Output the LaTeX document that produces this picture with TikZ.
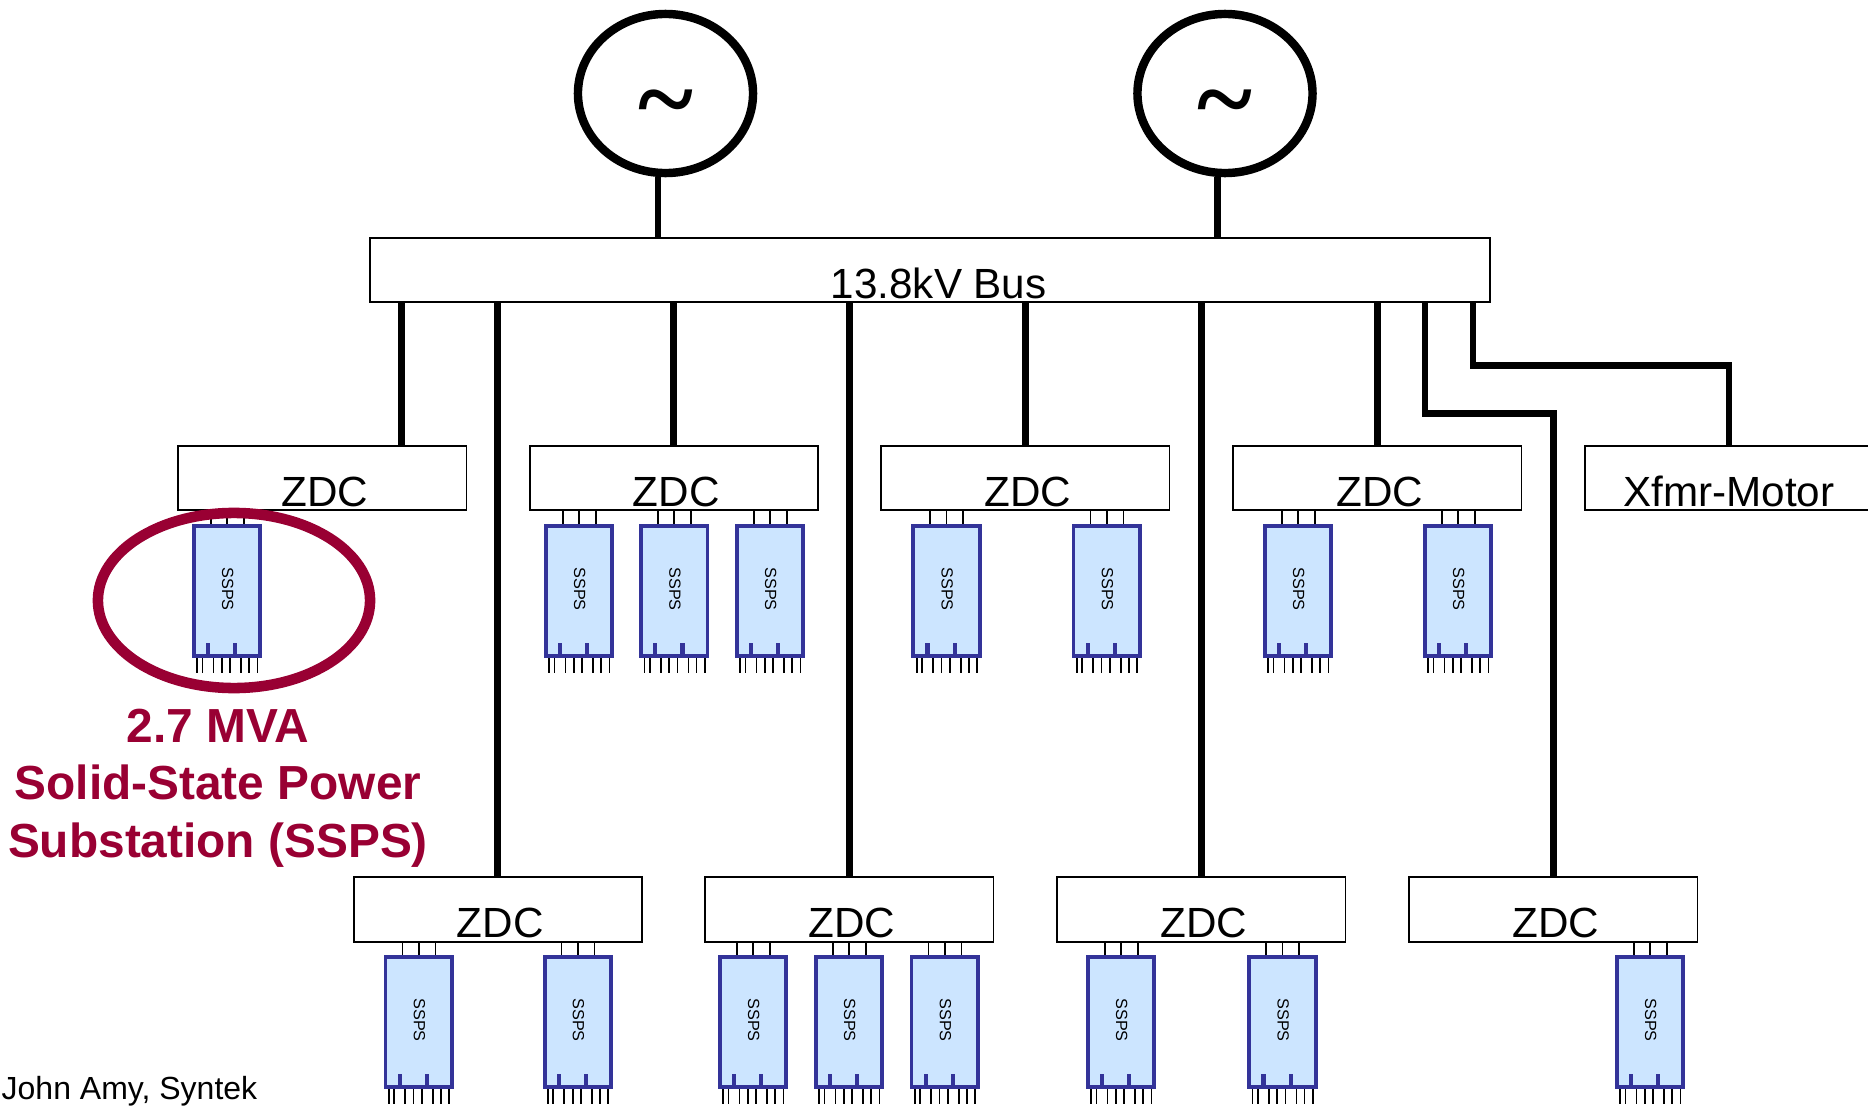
\documentclass[tikz,border=0pt]{standalone}
\usepackage{fontspec}
\setmainfont{Liberation Sans}
\newfontfamily\tildefont{Liberation Serif}
\usetikzlibrary{shapes.geometric,calc}
\definecolor{ssblue}{HTML}{333399}
\definecolor{ssfill}{HTML}{CCE5FF}
\definecolor{ssred}{HTML}{990033}
\newcommand{\zdclabel}{\hspace{0.05cm}ZDC}
\tikzset{
    genbox/.style={draw,ellipse,line width=2.4pt,minimum width=1.75cm,minimum height=1.59cm,inner sep=0pt,font=\tildefont\bfseries\fontsize{30}{30}\selectfont,text height=0.82cm},
    zdcbox/.style={draw,rectangle,line width=0.5pt,minimum width=2.88cm,minimum height=0.645cm,inner sep=0pt,text height=0.605cm,text depth=0.04cm,font=\fontsize{12}{14}\selectfont},
    sspsbox/.style={draw=ssblue,fill=ssfill,rectangle,line width=1.1pt,minimum width=0.663cm,minimum height=1.303cm,inner sep=0pt},
    sspstext/.style={rotate=-90,inner sep=0pt,font=\fontsize{4.6}{5}\selectfont,text=black},
    feeder/.style={line width=1.9pt},
    pin/.style={line width=0.5pt},
    tick/.style={draw=ssblue,line width=1.2pt}
}
\begin{document}
\begin{tikzpicture}[x=0.01cm,y=-0.01cm]
        \clip (0,0) rectangle (1868,1106);

        \node[genbox] (genA) at (665.5,93.5) {\textasciitilde};
        \node[genbox] (genB) at (1225,93.5) {\textasciitilde};
        \node[zdcbox,minimum width=11.195cm] (bus) at (929.7,270) {\hspace{0.18cm}13.8kV Bus};

        \node[zdcbox] (zdcA) at (322.3,478) {\zdclabel};
        \node[zdcbox] (zdcB) at (673.8,478) {\zdclabel};
        \node[zdcbox] (zdcC) at (1025.3,478) {\zdclabel};
        \node[zdcbox] (zdcD) at (1377.3,478) {\zdclabel};
        \node[zdcbox] (xfmr) at (1729,478) {Xfmr-Motor};
        \node[zdcbox] (zdcE) at (497.8,909.5) {\zdclabel};
        \node[zdcbox] (zdcF) at (849.3,909.5) {\zdclabel};
        \node[zdcbox] (zdcG) at (1201.3,909.5) {\zdclabel};
        \node[zdcbox] (zdcH) at (1553.3,909.5) {\zdclabel};

        \coordinate (stemA) at (658,200);
        \coordinate (stemB) at (1217.5,200);
        \coordinate (tapA) at (401.5,400);
        \coordinate (tapH) at (1425,413.3);
        \coordinate (tapX) at (1473,365.7);

        \draw[feeder] (stemA |- genA.south) -- (stemA |- bus.north);
        \draw[feeder] (stemB |- genB.south) -- (stemB |- bus.north);
        \draw[feeder] (tapA |- bus.south) -- (tapA |- zdcA.north);
        \foreach \zdcname in {zdcB,zdcC,zdcD,zdcE,zdcF,zdcG}
            \draw[feeder] (\zdcname.north |- bus.south) -- (\zdcname.north);
        \draw[feeder] (tapH |- bus.south) -- (tapH) -| (zdcH.north);
        \draw[feeder] (tapX |- bus.south) -- (tapX) -| (xfmr.north);

        \foreach \name/\cx/\cy/\parent in {
            sspsA/227/591/zdcA, sspsB/579/591/zdcB, sspsC/674.3/591/zdcB, sspsD/770/591/zdcB,
            sspsE/946.5/591/zdcC, sspsF/1106.7/591/zdcC, sspsG/1298/591/zdcD, sspsH/1458/591/zdcD,
            sspsI/418.7/1022/zdcE, sspsJ/577.8/1022/zdcE, sspsK/753/1022/zdcF, sspsL/849/1022/zdcF,
            sspsM/944.7/1022/zdcF, sspsN/1121/1022/zdcG, sspsO/1282.4/1022/zdcG, sspsP/1650/1022/zdcH} {
            \node[sspsbox] (\name) at (\cx,\cy) {};
            \node[sspstext] (\name text) at ($(\name.center)+(0.7,-2)$) {SSPS};
            \foreach \dx in {-16.3,0,16.7} {
                \coordinate (top) at ($(\name.north)+(\dx,0)$);
                \draw[pin] (top) -- (top |- \parent.south);
            }
            \foreach \dx in {-19,8.3} {
                \coordinate (tk) at ($(\name.south)+(\dx,-1.7)$);
                \draw[tick] (tk) -- ++(0,-13.5);
            }
            \foreach \dx in {-29.8,-24.5,-13.5,-5.1,3.2,14.2,22.2,30.5} {
                \coordinate (bot) at ($(\name.south)+(\dx,0)$);
                \draw[pin] (bot) -- ++(0,15);
            }
        }

        \node[draw=ssred,ellipse,line width=3pt,minimum width=2.72cm,minimum height=1.75cm,inner sep=0pt] (mark) at (234,600.5) {};
        \node[align=center,inner sep=0pt,text=ssred,font=\bfseries\fontsize{13.6}{16.4}\selectfont] (caption) at (218,788) {2.7 MVA\\Solid-State Power\\Substation (SSPS)};
        \node[anchor=base west,inner sep=0pt,font=\fontsize{9.1}{11}\selectfont] (credit) at (1,1099) {John Amy, Syntek};
    \end{tikzpicture}
\end{document}
